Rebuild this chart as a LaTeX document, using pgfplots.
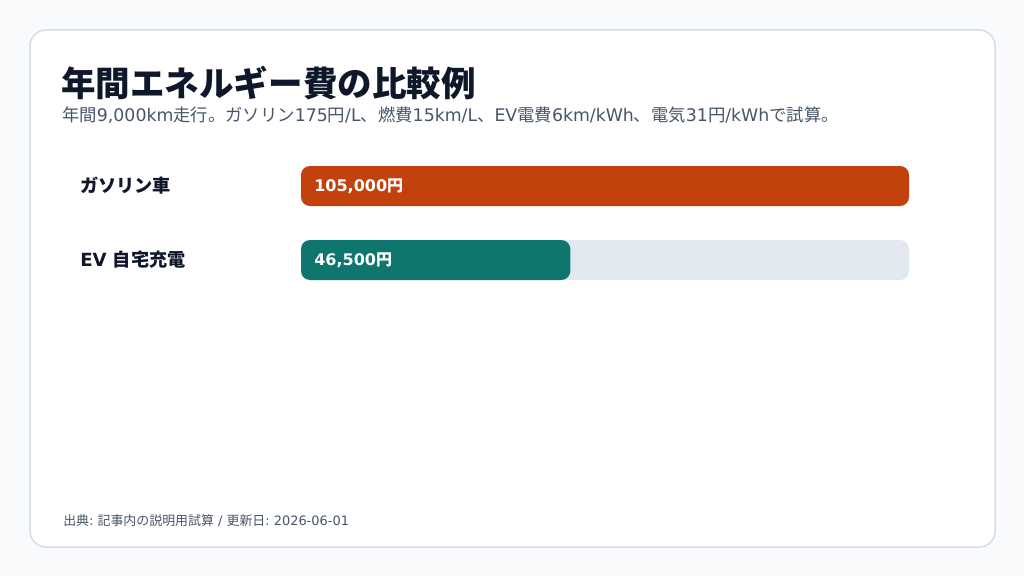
\documentclass[border=0pt]{standalone}
\usepackage{pgfplots}
\pgfplotsset{compat=1.18}
\usepackage{fontspec}
\setmainfont{Noto Sans CJK JP}
\newfontfamily\lat{DejaVu Sans}
\newlength\px
\setlength\px{0.75pt}
\definecolor{pagebg}{HTML}{F8FAFC}
\definecolor{cardline}{HTML}{D8DDE4}
\definecolor{ink}{HTML}{0F172A}
\definecolor{muted}{HTML}{475569}
\definecolor{track}{HTML}{E2E8F0}
\definecolor{gas}{HTML}{C2410C}
\definecolor{ev}{HTML}{0F766E}
\begin{document}
\begin{tikzpicture}
  % canvas and card
  \fill[pagebg] (0,0) rectangle (1024\px,576\px);
  \filldraw[fill=white, draw=cardline, line width=1.5\px, rounded corners=16\px]
    (30\px,29\px) rectangle (995\px,546\px);
  % title, subtitle, footer
  \node[anchor=base west, inner sep=0, text=ink, font=\fontsize{25.9pt}{30pt}\selectfont\bfseries]
    at (61\px,479\px) {年間エネルギー費の比較例};
  \node[anchor=base west, inner sep=0, text=muted, font=\fontsize{13pt}{16pt}\selectfont]
    at (62\px,454\px) {年間{\lat 9,000km}走行。ガソリン{\lat 175}円{\lat /L}、燃費{\lat 15km/L}、{\lat EV}電費{\lat 6km/kWh}、電気{\lat 31}円{\lat /kWh}で試算。};
  \node[anchor=base west, inner sep=0, text=muted, font=\fontsize{9.7pt}{12pt}\selectfont]
    at (63\px,51\px) {出典{\lat :\ }記事内の説明用試算{\lat \ /\ }更新日{\lat :\ 2026-06-01}};

  \begin{axis}[
      at={(301\px,279\px)}, anchor=south west,
      scale only axis,
      width=608\px, height=148\px,
      xmin=0, xmax=105000,
      ymin=0.5, ymax=2.5,
      axis line style={draw=none},
      xtick=\empty,
      ytick={1,2},
      yticklabels={{\lat\bfseries EV\ }自宅充電, ガソリン車},
      major tick length=0pt,
      yticklabel style={anchor=west, inner sep=0, xshift=-221\px,
        text=ink, font=\fontsize{13.6pt}{16pt}\selectfont\bfseries},
      xbar, bar width=40\px, bar shift=0pt,
      clip=false,
    ]
    % background track
    \addplot[draw=none, fill=track, rounded corners=9\px] coordinates {(105000,1) (105000,2)};
    % values
    \addplot[draw=none, fill=gas, rounded corners=9\px] coordinates {(105000,2)};
    \addplot[draw=none, fill=ev, rounded corners=9\px] coordinates {(46500,1)};
    \node[anchor=west, inner sep=0, xshift=13\px, text=white, font=\fontsize{12pt}{14pt}\selectfont\bfseries]
      at (axis cs:0,2) {{\lat\bfseries 105,000}円};
    \node[anchor=west, inner sep=0, xshift=13\px, text=white, font=\fontsize{12pt}{14pt}\selectfont\bfseries]
      at (axis cs:0,1) {{\lat\bfseries 46,500}円};
  \end{axis}
\end{tikzpicture}
\end{document}
